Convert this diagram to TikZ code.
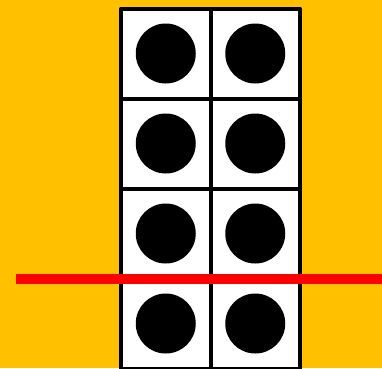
\documentclass[tikz,border=0pt]{standalone}
\usetikzlibrary{calc}
\definecolor{bgorange}{HTML}{FFC000}
\begin{document}
\begin{tikzpicture}[x=1pt,y=-1pt,
  cellbox/.style={draw=black,fill=white,line width=4pt,minimum width=89.5pt,minimum height=90pt,inner sep=0pt,outer sep=0pt,line join=round,anchor=center},
  dot/.style={fill=black,circle,minimum size=60pt,inner sep=0pt},
  cutline/.style={draw=red,line width=10pt}]
\fill[bgorange] (0,0) rectangle (382,368);
\useasboundingbox (0,0) rectangle (382,368);
\foreach \r/\yy in {1/53.5,2/143.5,3/233.5,4/323.5}{
  \node[cellbox] (c\r a) at (165.75,\yy) {};
  \node[cellbox] (c\r b) at (255.25,\yy) {};
  \node[dot] (d\r a) at (c\r a.center) {};
  \node[dot] (d\r b) at (c\r b.center) {};
}
\coordinate (ls) at (16,278.5);
\coordinate (le) at (382,278.5);
\draw[cutline] (ls) -- (le);
\end{tikzpicture}
\end{document}
